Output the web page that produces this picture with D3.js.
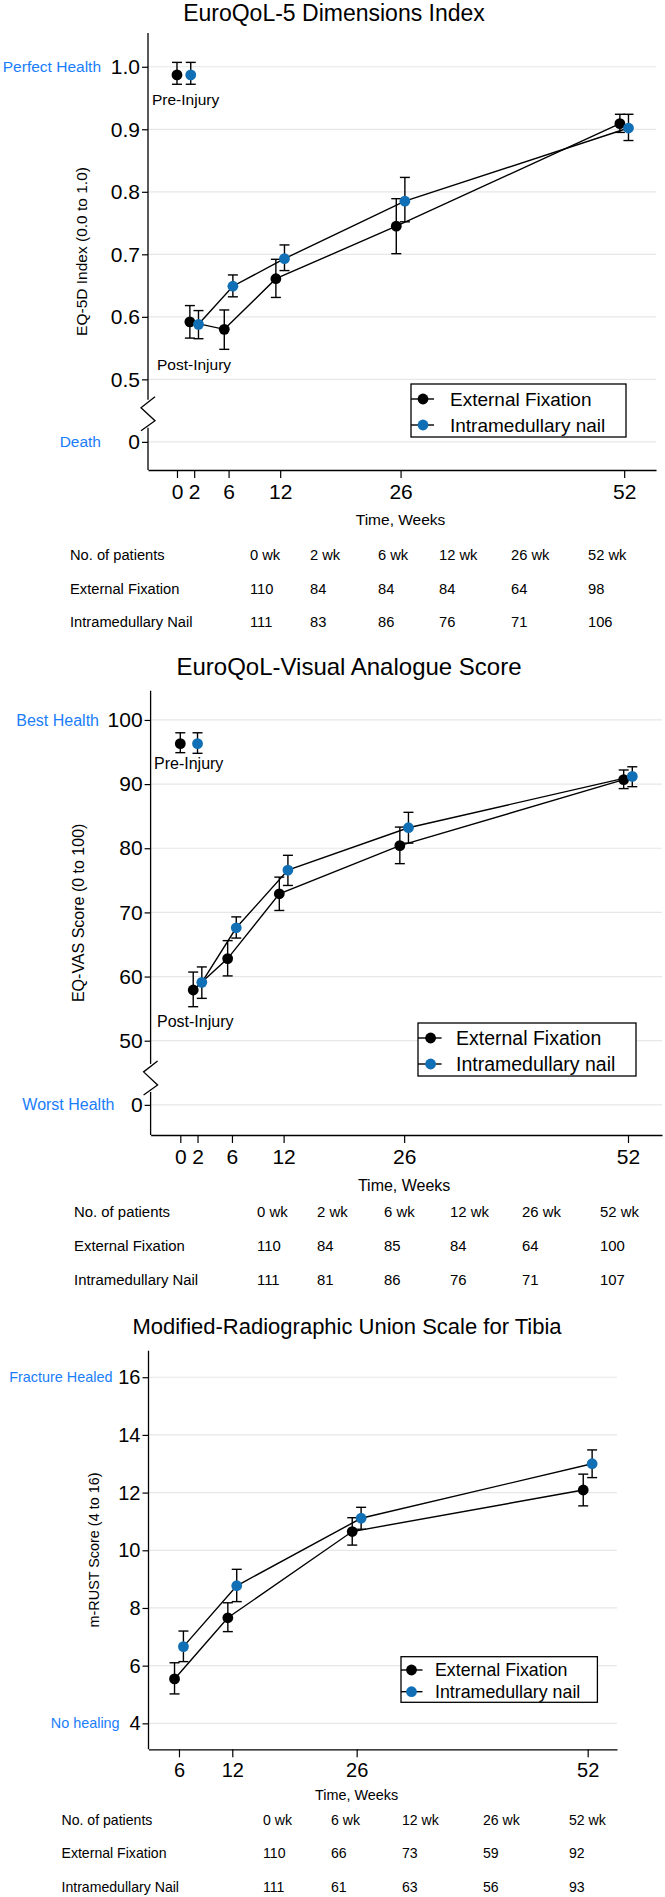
<!DOCTYPE html>
<html>
<head>
<meta charset="utf-8">
<script src="https://cdn.jsdelivr.net/npm/d3@7"></script>
<style>
body{margin:0;background:#fff;}
text{font-family:"Liberation Sans",Arial,Helvetica,sans-serif;fill:#000;}
</style>
</head>
<body>
<svg id="chart" width="665" height="1897"></svg>
<script>
// ---- data ----
const seriesNames = ['External Fixation', 'Intramedullary nail'];
const rowNames = ['External Fixation', 'Intramedullary Nail'];

// EQ-5D index (first point = pre-injury, not joined)
const eq5dWeeksEF = [0, 1.5, 5.5, 11.5, 25.5, 51.5];
const eq5dWeeksIM = [1.6, 2.5, 6.5, 12.5, 26.5, 52.5];
const eq5dEF   = [0.987, 0.592, 0.580, 0.661, 0.745, 0.909];
const eq5dEFlo = [0.972, 0.566, 0.548, 0.631, 0.701, 0.895];
const eq5dEFhi = [1.007, 0.618, 0.611, 0.692, 0.789, 0.924];
const eq5dIM   = [0.987, 0.588, 0.649, 0.693, 0.785, 0.902];
const eq5dIMlo = [0.972, 0.565, 0.632, 0.674, 0.752, 0.882];
const eq5dIMhi = [1.007, 0.610, 0.667, 0.715, 0.823, 0.924];
const eq5dYTicks = [0.5, 0.6, 0.7, 0.8, 0.9, 1.0];
const eq5dXTicks = [0, 2, 6, 12, 26, 52];
const eq5dCols = ['0 wk', '2 wk', '6 wk', '12 wk', '26 wk', '52 wk'];
const eq5dNEF = [110, 84, 84, 84, 64, 98];
const eq5dNIM = [111, 83, 86, 76, 71, 106];

// EQ-VAS
const vasWeeksEF = [0, 1.5, 5.5, 11.5, 25.5, 51.5];
const vasWeeksIM = [2.0, 2.5, 6.5, 12.5, 26.5, 52.5];
const vasEF   = [96.3, 57.9, 62.8, 72.9, 80.4, 90.7];
const vasEFlo = [94.9, 55.3, 60.1, 70.3, 77.6, 89.3];
const vasEFhi = [98.0, 60.7, 65.6, 75.5, 83.3, 92.2];
const vasIM   = [96.3, 59.1, 67.6, 76.6, 83.2, 91.2];
const vasIMlo = [94.8, 56.6, 66.0, 74.2, 80.8, 89.6];
const vasIMhi = [98.0, 61.5, 69.3, 78.9, 85.6, 92.7];
const vasYTicks = [50, 60, 70, 80, 90, 100];
const vasXTicks = [0, 2, 6, 12, 26, 52];
const vasCols = ['0 wk', '2 wk', '6 wk', '12 wk', '26 wk', '52 wk'];
const vasNEF = [110, 84, 85, 84, 64, 100];
const vasNIM = [111, 81, 86, 76, 71, 107];

// m-RUST
const rustWeeksEF = [5.5, 11.5, 25.5, 51.5];
const rustWeeksIM = [6.5, 12.5, 26.5, 52.5];
const rustEF   = [5.54, 7.66, 10.65, 12.09];
const rustEFlo = [5.02, 7.18, 10.18, 11.54];
const rustEFhi = [6.10, 8.18, 11.13, 12.64];
const rustIM   = [6.66, 8.77, 11.11, 13.00];
const rustIMlo = [6.14, 8.22, 10.73, 12.52];
const rustIMhi = [7.20, 9.34, 11.49, 13.48];
const rustYTicks = [4, 6, 8, 10, 12, 14, 16];
const rustXTicks = [6, 12, 26, 52];
const rustCols = ['0 wk', '6 wk', '12 wk', '26 wk', '52 wk'];
const rustNEF = [110, 66, 73, 59, 92];
const rustNIM = [111, 61, 63, 56, 93];

const blueMark = '#1170b5', blueText = '#1a7dfa';

const svg = d3.select('#chart');
svg.append('rect').attr('width', 665).attr('height', 1897).attr('fill', '#fff');

function pts(w, v, lo, hi){
    return w.map((d, i)=>({w: d, v: v[i], lo: lo[i], hi: hi[i]}));
}

function drawPanel(p){
    const g = svg.append('g');
    const x = d3.scaleLinear().domain(p.xDomain).range(p.xRange);
    const y = d3.scaleLinear().domain(p.yDomain).range(p.yRange);
    const ax = p.xRange[0], bottom = p.yRange[0];
    const gridVals = p.zeroAt != null ? [p.zeroAt].concat(p.yTicks) : p.yTicks;

    g.append('text').attr('x', p.titleX).attr('y', p.titleY)
        .attr('text-anchor', 'middle').style('font-size', p.titleSize + 'px').text(p.title);

    g.selectAll('.grid').data(gridVals).enter().append('line')
        .attr('x1', ax).attr('x2', p.xRange[1])
        .attr('y1', d=>y(d)).attr('y2', d=>y(d))
        .attr('stroke', '#e7e7e7').attr('stroke-width', 1.2);

    // y axis
    const ya = g.append('g').attr('transform', `translate(${ax},0)`)
        .call(d3.axisLeft(y).tickValues(gridVals).tickSize(6).tickPadding(2)
            .tickFormat(d=> d === p.zeroAt ? '0' : p.fmt(d)));
    ya.select('.domain').remove();
    ya.selectAll('line').attr('stroke', '#000').attr('stroke-width', 1.2);
    ya.selectAll('text').style('font-size', p.tickSize + 'px').attr('fill', '#000');
    g.append('line').attr('x1', ax).attr('x2', ax).attr('y1', p.yRange[1]).attr('y2', bottom)
        .attr('stroke', '#000').attr('stroke-width', 1.3);

    // axis break
    if(p.zeroAt != null){
        const bc = y(p.breakAt);
        g.append('rect').attr('x', ax - 3).attr('y', bc - 14).attr('width', 6).attr('height', 28).attr('fill', '#fff');
        g.append('path')
            .attr('d', `M${ax+7},${bc-17} L${ax-7},${bc-6} L${ax+7},${bc+7} L${ax-7},${bc+17}`)
            .attr('fill', 'none').attr('stroke', '#000').attr('stroke-width', 1.3);
    }

    // x axis
    const xa = g.append('g').attr('transform', `translate(0,${bottom})`)
        .call(d3.axisBottom(x).tickValues(p.xTicks).tickSize(8).tickSizeOuter(0).tickPadding(6));
    xa.select('.domain').attr('stroke', '#000').attr('stroke-width', 1.3);
    xa.selectAll('line').attr('stroke', '#000').attr('stroke-width', 1.2);
    xa.selectAll('text').style('font-size', p.tickSize + 'px').attr('fill', '#000');

    g.append('text').attr('x', x(26)).attr('y', p.xLabelY).attr('dy', '0.35em')
        .attr('text-anchor', 'middle').style('font-size', p.labelSize + 'px').text('Time, Weeks');

    g.append('text').attr('transform', `translate(${p.yLabelX},${(p.yRange[0] + p.yRange[1]) / 2}) rotate(-90)`)
        .attr('dy', '0.35em').attr('text-anchor', 'middle').style('font-size', p.labelSize + 'px').text(p.yLabel);

    // blue anchor labels
    p.anchors.forEach(a=>{
        g.append('text').attr('x', a.x).attr('y', y(a.at)).attr('dy', '0.35em')
            .attr('text-anchor', 'end').attr('fill', blueText).style('fill', blueText)
            .style('font-size', p.labelSize + 'px').text(a.text);
    });
    p.notes.forEach(n=>{
        g.append('text').attr('x', n.x).attr('y', n.y).attr('dy', '0.35em')
            .style('font-size', p.labelSize + 'px').text(n.text);
    });

    // series
    const line = d3.line().x(d=>x(d.w)).y(d=>y(d.v));
    const series = [
        {data: p.ef, color: '#000'},
        {data: p.im, color: blueMark}
    ];
    series.forEach(s=>{
        g.append('path').datum(s.data.slice(p.joinFrom))
            .attr('d', line).attr('fill', 'none').attr('stroke', '#000').attr('stroke-width', 1.4);
    });
    series.forEach(s=>{
        const eb = g.append('g').selectAll('g').data(s.data).enter().append('g');
        eb.append('line').attr('x1', d=>x(d.w)).attr('x2', d=>x(d.w))
            .attr('y1', d=>y(d.lo)).attr('y2', d=>y(d.hi));
        eb.append('line').attr('x1', d=>x(d.w) - 5).attr('x2', d=>x(d.w) + 5)
            .attr('y1', d=>y(d.lo)).attr('y2', d=>y(d.lo));
        eb.append('line').attr('x1', d=>x(d.w) - 5).attr('x2', d=>x(d.w) + 5)
            .attr('y1', d=>y(d.hi)).attr('y2', d=>y(d.hi));
        eb.selectAll('line').attr('stroke', '#000').attr('stroke-width', 1.4);
    });
    series.forEach(s=>{
        g.append('g').selectAll('circle').data(s.data).enter().append('circle')
            .attr('cx', d=>x(d.w)).attr('cy', d=>y(d.v)).attr('r', 5.4).attr('fill', s.color);
    });

    // legend
    const L = p.legend;
    g.append('rect').attr('x', L.x).attr('y', L.y).attr('width', L.w).attr('height', L.h)
        .attr('fill', '#fff').attr('stroke', '#000').attr('stroke-width', 1.3);
    seriesNames.forEach((name, i)=>{
        const cy = L.rows[i];
        g.append('line').attr('x1', L.x).attr('x2', L.mx + 11).attr('y1', cy).attr('y2', cy)
            .attr('stroke', '#000').attr('stroke-width', 1.4);
        g.append('circle').attr('cx', L.mx).attr('cy', cy).attr('r', 5.4).attr('fill', series[i].color);
        g.append('text').attr('x', L.tx).attr('y', cy).attr('dy', '0.35em')
            .style('font-size', L.size + 'px').text(name);
    });

    // patient counts
    const T = p.table;
    const rows = [['No. of patients'].concat(T.cols), [rowNames[0]].concat(T.nEF), [rowNames[1]].concat(T.nIM)];
    rows.forEach((r, ri)=>{
        r.forEach((cell, ci)=>{
            g.append('text').attr('x', ci === 0 ? T.labelX : T.colX[ci - 1]).attr('y', T.rowY[ri])
                .attr('dy', '0.35em').style('font-size', T.size + 'px').text(cell);
        });
    });
}

drawPanel({
    title: 'EuroQoL-5 Dimensions Index', titleX: 334, titleY: 21, titleSize: 23,
    xDomain: [-3.37, 55.7], xRange: [148, 656],
    yDomain: [0.355, 1.054], yRange: [470, 33],
    yTicks: eq5dYTicks, xTicks: eq5dXTicks, fmt: d3.format('.1f'),
    zeroAt: 0.4, breakAt: 0.445, joinFrom: 1,
    tickSize: 21, labelSize: 15.5,
    xLabelY: 520, yLabel: 'EQ-5D Index (0.0 to 1.0)', yLabelX: 82,
    anchors: [{text: 'Perfect Health', at: 1.0, x: 101}, {text: 'Death', at: 0.4, x: 101}],
    notes: [{text: 'Pre-Injury', x: 152, y: 100}, {text: 'Post-Injury', x: 157, y: 365}],
    ef: pts(eq5dWeeksEF, eq5dEF, eq5dEFlo, eq5dEFhi),
    im: pts(eq5dWeeksIM, eq5dIM, eq5dIMlo, eq5dIMhi),
    legend: {x: 411, y: 384, w: 215, h: 53, mx: 423, tx: 450, rows: [399, 425], size: 19},
    table: {cols: eq5dCols, nEF: eq5dNEF, nIM: eq5dNIM, labelX: 70,
        colX: [250, 310, 378, 439, 511, 588], rowY: [555, 589, 622], size: 14.7}
});

drawPanel({
    title: 'EuroQoL-Visual Analogue Score', titleX: 349, titleY: 675, titleSize: 24,
    xDomain: [-3.45, 55.95], xRange: [150.6, 662],
    yDomain: [35.3, 104.56], yRange: [1135, 690.7],
    yTicks: vasYTicks, xTicks: vasXTicks, fmt: d3.format('d'),
    zeroAt: 40, breakAt: 44.2, joinFrom: 1,
    tickSize: 21, labelSize: 16,
    xLabelY: 1185, yLabel: 'EQ-VAS Score (0 to 100)', yLabelX: 78,
    anchors: [{text: 'Best Health', at: 100, x: 99}, {text: 'Worst Health', at: 40, x: 114.5}],
    notes: [{text: 'Pre-Injury', x: 154, y: 763}, {text: 'Post-Injury', x: 157, y: 1021}],
    ef: pts(vasWeeksEF, vasEF, vasEFlo, vasEFhi),
    im: pts(vasWeeksIM, vasIM, vasIMlo, vasIMhi),
    legend: {x: 418, y: 1023, w: 218, h: 53, mx: 430.6, tx: 456, rows: [1038, 1064], size: 19.5},
    table: {cols: vasCols, nEF: vasNEF, nIM: vasNIM, labelX: 74,
        colX: [257, 317, 384, 450, 522, 600], rowY: [1212, 1246, 1280], size: 14.9}
});

drawPanel({
    title: 'Modified-Radiographic Union Scale for Tibia', titleX: 347, titleY: 1334, titleSize: 22,
    xDomain: [2.57, 55.3], xRange: [148.5, 617],
    yDomain: [3.1, 16.92], yRange: [1749.3, 1350.7],
    yTicks: rustYTicks, xTicks: rustXTicks, fmt: d3.format('d'),
    zeroAt: null, joinFrom: 0,
    tickSize: 20, labelSize: 14.4,
    xLabelY: 1795, yLabel: 'm-RUST Score (4 to 16)', yLabelX: 94,
    anchors: [{text: 'Fracture Healed', at: 16, x: 112.4}, {text: 'No healing', at: 4, x: 119.6}],
    notes: [],
    ef: pts(rustWeeksEF, rustEF, rustEFlo, rustEFhi),
    im: pts(rustWeeksIM, rustIM, rustIMlo, rustIMhi),
    legend: {x: 401, y: 1656.7, w: 196.4, h: 45.6, mx: 411.5, tx: 435, rows: [1670, 1691.7], size: 17.8},
    table: {cols: rustCols, nEF: rustNEF, nIM: rustNIM, labelX: 61.5,
        colX: [263, 331, 402, 483, 569], rowY: [1820, 1853, 1887], size: 14.1}
});
</script>
</body>
</html>
